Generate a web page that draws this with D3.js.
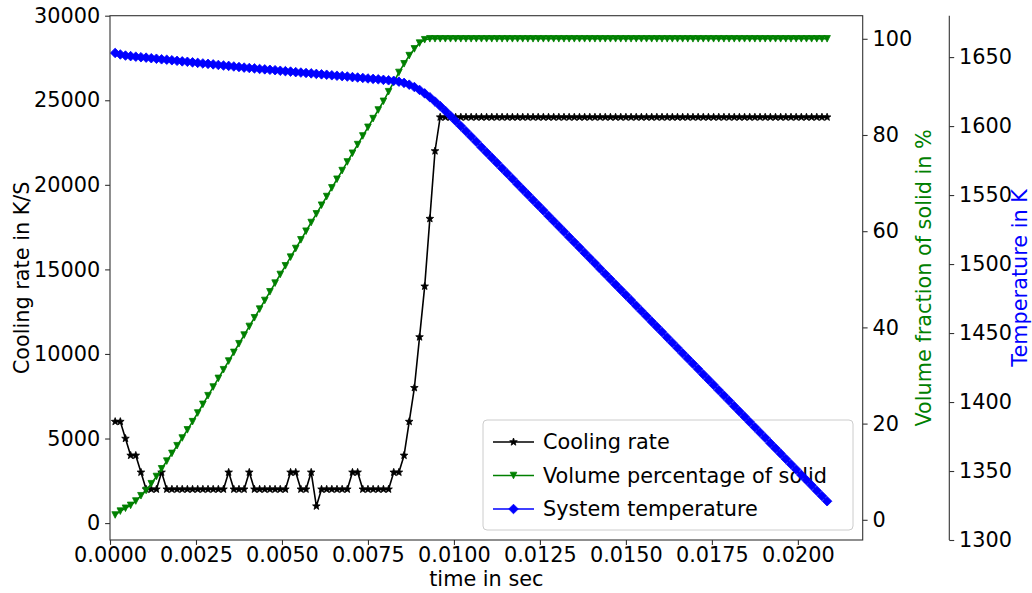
<!DOCTYPE html>
<html>
<head>
<meta charset="utf-8">
<script src="https://cdn.jsdelivr.net/npm/d3@7"></script>
<style>
  html, body { margin: 0; padding: 0; background: #fff; }
  svg { display: block; font-family: "DejaVu Sans", sans-serif; }
</style>
</head>
<body>
<svg id="chart" width="1032" height="593"></svg>
<script>
// Sample times (ms)
const timeMs = [
  0.15,0.30,0.45,0.60,0.75,0.90,1.05,1.20,1.35,1.50,
  1.65,1.80,1.95,2.10,2.25,2.40,2.55,2.70,2.85,3.00,
  3.15,3.30,3.45,3.60,3.75,3.90,4.05,4.20,4.35,4.50,
  4.65,4.80,4.95,5.10,5.25,5.40,5.55,5.70,5.85,6.00,
  6.15,6.30,6.45,6.60,6.75,6.90,7.05,7.20,7.35,7.50,
  7.65,7.80,7.95,8.10,8.25,8.40,8.55,8.70,8.85,9.00,
  9.15,9.30,9.45,9.60,9.75,9.90,10.05,10.20,10.35,10.50,
  10.65,10.80,10.95,11.10,11.25,11.40,11.55,11.70,11.85,12.00,
  12.15,12.30,12.45,12.60,12.75,12.90,13.05,13.20,13.35,13.50,
  13.65,13.80,13.95,14.10,14.25,14.40,14.55,14.70,14.85,15.00,
  15.15,15.30,15.45,15.60,15.75,15.90,16.05,16.20,16.35,16.50,
  16.65,16.80,16.95,17.10,17.25,17.40,17.55,17.70,17.85,18.00,
  18.15,18.30,18.45,18.60,18.75,18.90,19.05,19.20,19.35,19.50,
  19.65,19.80,19.95,20.10,20.25,20.40,20.55,20.70,20.85
];

// Cooling rate (K/S)
const coolingRate = [
  6000,6000,5000,4000,4000,3000,2000,2000,2000,3000,
  2000,2000,2000,2000,2000,2000,2000,2000,2000,2000,
  2000,2000,3000,2000,2000,2000,3000,2000,2000,2000,
  2000,2000,2000,2000,3000,3000,2000,2000,3000,1000,
  2000,2000,2000,2000,2000,2000,3000,3000,2000,2000,
  2000,2000,2000,2000,3000,3000,4000,6000,8000,11000,
  14000,18000,22000,24000,24000,24000,24000,24000,24000,24000,
  24000,24000,24000,24000,24000,24000,24000,24000,24000,24000,
  24000,24000,24000,24000,24000,24000,24000,24000,24000,24000,
  24000,24000,24000,24000,24000,24000,24000,24000,24000,24000,
  24000,24000,24000,24000,24000,24000,24000,24000,24000,24000,
  24000,24000,24000,24000,24000,24000,24000,24000,24000,24000,
  24000,24000,24000,24000,24000,24000,24000,24000,24000,24000,
  24000,24000,24000,24000,24000,24000,24000,24000,24000
];

// Volume percentage of solid (%)
const solidPct = [
  1.0,1.8,2.4,3.0,3.9,5.0,6.1,7.5,9.0,10.6,
  12.2,13.8,15.4,17.0,18.7,20.4,22.2,24.0,25.8,27.6,
  29.4,31.2,33.0,34.8,36.6,38.4,40.2,42.0,43.8,45.6,
  47.4,49.2,51.0,52.8,54.6,56.4,58.2,60.0,61.8,63.6,
  65.4,67.2,69.0,70.8,72.6,74.4,76.2,78.0,79.8,81.6,
  83.4,85.2,87.0,89.0,91.0,93.0,94.8,96.5,97.9,99.1,
  99.8,100,100,100,100,100,100,100,100,100,
  100,100,100,100,100,100,100,100,100,100,
  100,100,100,100,100,100,100,100,100,100,
  100,100,100,100,100,100,100,100,100,100,
  100,100,100,100,100,100,100,100,100,100,
  100,100,100,100,100,100,100,100,100,100,
  100,100,100,100,100,100,100,100,100,100,
  100,100,100,100,100,100,100,100,100
];

// System temperature (K)
const temperature = [
  1653.0,1651.9,1651.1,1650.7,1650.3,1649.9,1649.6,1649.2,1648.8,1648.4,
  1648.1,1647.7,1647.3,1646.9,1646.6,1646.2,1645.8,1645.4,1645.1,1644.7,
  1644.3,1643.9,1643.6,1643.2,1642.8,1642.4,1642.1,1641.8,1641.4,1641.1,
  1640.8,1640.5,1640.1,1639.8,1639.5,1639.1,1638.8,1638.5,1638.2,1637.8,
  1637.5,1637.2,1636.8,1636.5,1636.2,1635.9,1635.5,1635.2,1634.9,1634.5,
  1634.2,1633.9,1633.5,1633.2,1632.8,1632.2,1631.3,1630.0,1628.3,1626.2,
  1623.7,1620.9,1617.8,1614.5,1611.0,1607.4,1603.7,1600.0,1596.2,1592.4,
  1588.6,1584.7,1580.9,1577.1,1573.3,1569.4,1565.6,1561.8,1557.9,1554.1,
  1550.3,1546.4,1542.6,1538.8,1534.9,1531.1,1527.3,1523.5,1519.6,1515.8,
  1512.0,1508.1,1504.3,1500.5,1496.6,1492.8,1489.0,1485.1,1481.3,1477.5,
  1473.7,1469.8,1466.0,1462.2,1458.3,1454.5,1450.7,1446.8,1443.0,1439.2,
  1435.3,1431.5,1427.7,1423.9,1420.0,1416.2,1412.4,1408.5,1404.7,1400.9,
  1397.0,1393.2,1389.4,1385.5,1381.7,1377.9,1374.1,1370.2,1366.4,1362.6,
  1358.7,1354.9,1351.1,1347.2,1343.4,1339.6,1335.7,1331.9,1328.1
];

// Tick values
const timeTicks = [0, 0.0025, 0.005, 0.0075, 0.01, 0.0125, 0.015, 0.0175, 0.02];
const rateTicks = [0, 5000, 10000, 15000, 20000, 25000, 30000];
const pctTicks = [0, 20, 40, 60, 80, 100];
const tempTicks = [1300, 1350, 1400, 1450, 1500, 1550, 1600, 1650];

const seriesNames = ["Cooling rate", "Volume percentage of solid", "System temperature"];

// ---- layout ----
const L = 110, R = 862.7, T = 15.7, B = 540;
const tempAxisX = 949.3;
const FS = 20.8;

const svg = d3.select("#chart");

const x = d3.scaleLinear().domain([0, 0.021885]).range([L, R]);
const yRate = d3.scaleLinear().domain([-1000, 30000]).range([B, T]);
const yPct = d3.scaleLinear().domain([-4.2, 104.8]).range([B, T]);
const yTemp = d3.scaleLinear().domain([1300, 1680]).range([B, T]);

const data = timeMs.map((t, i) => ({
  t: t / 1000,
  rate: coolingRate[i],
  pct: solidPct[i],
  temp: temperature[i]
}));

// marker shapes
function starPath(r) {
  const ri = r * 0.42;
  const pts = [];
  for (let k = 0; k < 10; k++) {
    const a = -Math.PI / 2 + k * Math.PI / 5;
    const rr = k % 2 === 0 ? r : ri;
    pts.push([rr * Math.cos(a), rr * Math.sin(a)]);
  }
  return "M" + pts.map(p => p[0].toFixed(2) + "," + p[1].toFixed(2)).join("L") + "Z";
}
const triDown = (w) => `M0,${w}L${-w},${-w}L${w},${-w}Z`;
const diamond = (r) => `M0,${-r}L${r},0L0,${r}L${-r},0Z`;

const styles = [
  { color: "#000000", path: starPath(4.0), lw: 1.6 },
  { color: "#008000", path: triDown(3.3), lw: 1.6 },
  { color: "#0000ff", path: diamond(4.8), lw: 1.6 }
];

// ---- axes frame (drawn under the data) ----
const axisColor = "#333";
svg.append("rect").attr("x", L).attr("y", T).attr("width", R - L).attr("height", B - T)
  .attr("fill", "#fff").attr("stroke", "none");

function styleAxis(g) {
  g.selectAll(".domain").remove();
  g.selectAll(".tick line").attr("stroke", axisColor).attr("stroke-width", 1.1);
  g.selectAll(".tick text").attr("fill", "#000").style("font-size", FS + "px")
    .style("font-family", "DejaVu Sans, sans-serif");
}

// bottom axis
const gx = svg.append("g").attr("transform", `translate(0,${B})`)
  .call(d3.axisBottom(x).tickValues(timeTicks).tickFormat(d3.format(".4f")).tickSize(4.9).tickPadding(2.6));
styleAxis(gx);

// left axis
const gl = svg.append("g").attr("transform", `translate(${L},0)`)
  .call(d3.axisLeft(yRate).tickValues(rateTicks).tickFormat(d3.format("d")).tickSize(4.9).tickPadding(4.9));
styleAxis(gl);

// right axis (solid fraction)
const gr = svg.append("g").attr("transform", `translate(${R},0)`)
  .call(d3.axisRight(yPct).tickValues(pctTicks).tickFormat(d3.format("d")).tickSize(4.9).tickPadding(4.9));
styleAxis(gr);

// offset right axis (temperature)
const gt = svg.append("g").attr("transform", `translate(${tempAxisX},0)`)
  .call(d3.axisRight(yTemp).tickValues(tempTicks).tickFormat(d3.format("d")).tickSize(4.9).tickPadding(4.9));
styleAxis(gt);
gt.append("line").attr("x1", 0).attr("x2", 0).attr("y1", T).attr("y2", B)
  .attr("stroke", axisColor).attr("stroke-width", 1.1);

// clip region of the plot area
svg.append("clipPath").attr("id", "plotclip").append("rect")
  .attr("x", L).attr("y", T).attr("width", R - L).attr("height", B - T);

function drawSeries(accX, accY, st) {
  const g = svg.append("g").attr("clip-path", "url(#plotclip)");
  const line = d3.line().x(accX).y(accY);
  g.append("path").datum(data).attr("d", line)
    .attr("fill", "none").attr("stroke", st.color).attr("stroke-width", st.lw)
    .attr("stroke-linejoin", "round");
  g.selectAll("path.mk").data(data).join("path").attr("class", "mk")
    .attr("transform", d => `translate(${accX(d)},${accY(d)})`)
    .attr("d", st.path).attr("fill", st.color).attr("stroke", st.color).attr("stroke-width", 0.8);
}

// cooling rate on the primary axes
drawSeries(d => x(d.t), d => yRate(d.rate), styles[0]);

// legend (belongs to the primary axes, so twin-axis lines draw over it)
const lg = svg.append("g").attr("transform", "translate(483,420)");
lg.append("rect").attr("x", 0).attr("y", 0).attr("width", 370).attr("height", 110)
  .attr("rx", 4).attr("fill", "#fff").attr("fill-opacity", 0.8)
  .attr("stroke", "#cccccc").attr("stroke-width", 1);
seriesNames.forEach((name, i) => {
  const cy = 22 + i * 33.5;
  const st = styles[i];
  lg.append("line").attr("x1", 10).attr("x2", 51).attr("y1", cy).attr("y2", cy)
    .attr("stroke", st.color).attr("stroke-width", st.lw);
  lg.append("path").attr("transform", `translate(30.5,${cy})`).attr("d", st.path)
    .attr("fill", st.color).attr("stroke", st.color).attr("stroke-width", 0.8);
  lg.append("text").attr("x", 60).attr("y", cy).attr("dy", "0.36em")
    .style("font-size", FS + "px").attr("fill", "#000").text(name);
});

// solid fraction and temperature on twin axes
drawSeries(d => x(d.t), d => yPct(d.pct), styles[1]);
drawSeries(d => x(d.t), d => yTemp(d.temp), styles[2]);

// spines of the main box
svg.append("rect").attr("x", L).attr("y", T).attr("width", R - L).attr("height", B - T)
  .attr("fill", "none").attr("stroke", axisColor).attr("stroke-width", 1.1);

// axis titles
svg.append("text").attr("x", (L + R) / 2).attr("y", 586).attr("text-anchor", "middle")
  .style("font-size", FS + "px").attr("fill", "#000").text("time in sec");
svg.append("text").attr("transform", `translate(29,${(T + B) / 2}) rotate(-90)`)
  .attr("text-anchor", "middle").style("font-size", FS + "px").attr("fill", "#000")
  .text("Cooling rate in K/S");
svg.append("text").attr("transform", `translate(931,${(T + B) / 2}) rotate(-90)`)
  .attr("text-anchor", "middle").style("font-size", FS + "px").attr("fill", "#008000")
  .text("Volume fraction of solid in %");
svg.append("text").attr("transform", `translate(1027,${(T + B) / 2}) rotate(-90)`)
  .attr("text-anchor", "middle").style("font-size", FS + "px").attr("fill", "#0000ff")
  .text("Temperature in K");
</script>
</body>
</html>
